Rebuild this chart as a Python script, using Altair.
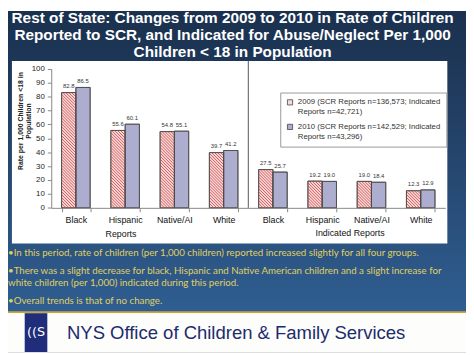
import altair as alt
import pandas as pd

# ---------------- data ----------------
title_lines = [
    "Rest of State: Changes from 2009 to 2010 in Rate of Children",
    "Reported to SCR,  and Indicated for Abuse/Neglect Per 1,000",
    "Children < 18 in Population",
]
races = ["Black", "Hispanic", "Native/AI", "White"]
group_names = ["Reports", "Indicated Reports"]
series_names = [
    "2009 (SCR Reports n=136,573; Indicated Reports n=42,721)",
    "2010 (SCR Reports n=142,529; Indicated Reports n=43,296)",
]
reports_2009 = [82.8, 55.6, 54.8, 39.7]
reports_2010 = [86.5, 60.1, 55.1, 41.2]
indicated_2009 = [27.5, 19.2, 19.0, 12.3]
indicated_2010 = [25.7, 19.0, 18.4, 12.9]
y_ticks = [0, 10, 20, 30, 40, 50, 60, 70, 80, 90, 100]
y_title = ["Rate per 1,000 Children <18 in", "Population"]
bullet_lines = [
    "\u2022In this period, rate of children (per 1,000 children) reported increased slightly for all four groups.",
    "\u2022There was a slight decrease for black, Hispanic and Native American children and a slight increase for",
    "white children (per 1,000) indicated during this period.",
    "\u2022Overall trends is that of no change.",
]
footer_text = "NYS Office of Children & Family Services"

# ---------------- layout ----------------
W, H = 466, 347
PX0, PX1 = 44.0, 445.0
PY0, PY100 = 200.3, 58.7
PAD_IN = 0.42
N_BANDS = 8
STEP = (PX1 - PX0) / N_BANDS
BAND_START = PX0 + STEP * PAD_IN / 2
BAR_W = STEP * (1 - PAD_IN) / 2
YPX = (PY0 - PY100) / 100.0

C2009 = "#f5dada"
C2010 = "#adadcf"
HATCH = "#d84848"

rows = []
for gname, v09, v10 in [(group_names[0], reports_2009, reports_2010),
                        (group_names[1], indicated_2009, indicated_2010)]:
    for r, race in enumerate(races):
        key = f"{gname}|{race}"
        rows.append({"key": key, "series": series_names[0], "value": v09[r]})
        rows.append({"key": key, "series": series_names[1], "value": v10[r]})
df = pd.DataFrame(rows)
keys = list(dict.fromkeys(df["key"]))

# hatch lines over the 2009 bars (diagonal "\" stripes), in data units
hatch = []
spacing = 3.0
for j, k in enumerate(keys):
    v = df[(df.key == k) & (df.series == series_names[0])]["value"].iloc[0]
    L = BAND_START + j * STEP
    w, h = BAR_W, v * YPX
    c = spacing / 2
    while c < w + h:
        a1, a2 = max(0.0, c - h), min(w, c)
        if a2 > a1:
            hatch.append({
                "hx": (L + a1 - PX0) / STEP, "hy": (c - a1) / YPX,
                "hx2": (L + a2 - PX0) / STEP, "hy2": (c - a2) / YPX,
            })
        c += spacing
hdf = pd.DataFrame(hatch)

one = pd.DataFrame({"k": [0]})

xscale = alt.Scale(domain=keys, range=[PX0, PX1], paddingInner=PAD_IN, paddingOuter=PAD_IN / 2)
yscale = alt.Scale(domain=[0, 100], range=[PY0, PY100], nice=False, zero=True)
offscale = alt.Scale(domain=series_names, paddingInner=0, paddingOuter=0)

# ---------------- decoration ----------------
bg = alt.Chart(one).mark_rect(
    fill=alt.LinearGradient(
        gradient="linear",
        stops=[alt.GradientStop(color="#1a304e", offset=0),
               alt.GradientStop(color="#223f63", offset=0.35),
               alt.GradientStop(color="#2f5e92", offset=1)],
        x1=0, x2=0, y1=0, y2=1)
).encode(x=alt.value(0), x2=alt.value(W), y=alt.value(0), y2=alt.value(307))

title = alt.Chart(one).mark_text(
    text=title_lines, font="Liberation Sans", fontWeight="bold", fontSize=15.6,
    color="white", align="center", baseline="alphabetic", lineHeight=17.5
).encode(x=alt.value(228.5), y=alt.value(12))

panel = alt.Chart(one).mark_rect(fill="white").encode(
    x=alt.value(4), x2=alt.value(447), y=alt.value(51), y2=alt.value(236.5))

sep = alt.Chart(one).mark_rule(color="#555", strokeWidth=1).encode(
    x=alt.value(PX0 + 4 * STEP), y=alt.value(51), y2=alt.value(PY0))

# ---------------- data layers ----------------
bars = alt.Chart(df).mark_bar(stroke="#4a4a4a", strokeWidth=0.8).encode(
    x=alt.X("key:N", scale=xscale, sort=keys, title=None,
            axis=alt.Axis(offset=-(H - PY0), labelExpr="split(datum.label, '|')[1]",
                          tickBand="extent", tickSize=4, labelFontSize=9, labelPadding=4,
                          labelAngle=0, domainColor="#888", tickColor="#888",
                          labelColor="#111", labelFont="Liberation Sans", zindex=1)),
    xOffset=alt.XOffset("series:N", scale=offscale, sort=series_names),
    y=alt.Y("value:Q", scale=yscale,
            axis=alt.Axis(values=y_ticks, offset=-PX0, tickSize=4, labelFontSize=8,
                          labelPadding=3, domainColor="#888", tickColor="#888",
                          labelColor="#222", grid=False, title=y_title,
                          titleFontSize=7, titleFontWeight="bold", titleAngle=270,
                          titleX=-35.5, titleY=111.5, titleAlign="center",
                          titleBaseline="top", titleColor="#222", titleLineHeight=8,
                          titleFont="Liberation Sans", zindex=1)),
    color=alt.Color("series:N", scale=alt.Scale(domain=series_names, range=[C2009, C2010]),
                    legend=alt.Legend(orient="none", legendX=277, legendY=83, title=None,
                                      labelExpr="[substring(datum.label, 0, lastindexof(datum.label, ' Reports')), substring(datum.label, lastindexof(datum.label, ' Reports') + 1)]",
                                      labelFontSize=7.9, labelLimit=0,
                                      labelColor="#333", labelFont="Liberation Sans",
                                      symbolType="square", symbolSize=28,
                                      symbolStrokeColor="#444", symbolStrokeWidth=0.8,
                                      fillColor="white", strokeColor="#999",
                                      padding=6, rowPadding=6)),
)

hatch_layer = alt.Chart(hdf).mark_rule(color=HATCH, strokeWidth=0.9).encode(
    x=alt.X("hx:Q", scale=alt.Scale(domain=[0, N_BANDS], range=[PX0, PX1], nice=False, zero=False), axis=None),
    x2="hx2:Q",
    y=alt.Y("hy:Q", scale=yscale, axis=None),
    y2="hy2:Q",
)

outline = alt.Chart(df).mark_bar(fillOpacity=0, stroke="#4a4a4a", strokeWidth=0.8).encode(
    x=alt.X("key:N", scale=xscale, sort=keys, axis=None),
    xOffset=alt.XOffset("series:N", scale=offscale, sort=series_names),
    y=alt.Y("value:Q", scale=yscale, axis=None),
)

labels = alt.Chart(df).mark_text(fontSize=6, dy=-6.5, color="#333", font="Liberation Sans").encode(
    x=alt.X("key:N", scale=xscale, sort=keys, axis=None),
    xOffset=alt.XOffset("series:N", scale=offscale, sort=series_names),
    y=alt.Y("value:Q", scale=yscale, axis=None),
    text=alt.Text("value:Q", format=".1f"),
)

grp_left = alt.Chart(one).mark_text(text=group_names[0], fontSize=9, color="#111",
                                    font="Liberation Sans").encode(
    x=alt.value(115), y=alt.value(227))
grp_right = alt.Chart(one).mark_text(text=group_names[1], fontSize=9, color="#111",
                                     font="Liberation Sans").encode(
    x=alt.value(348), y=alt.value(226))

# ---------------- bullets ----------------
bullet_y = [246, 264.5, 277, 295.5]
bullet_layers = [
    alt.Chart(one).mark_text(text=t, font="Lato", fontSize=9.9, color="#e0d060",
                             align="left", baseline="middle").encode(
        x=alt.value(0), y=alt.value(yy))
    for t, yy in zip(bullet_lines, bullet_y)
]

# ---------------- footer ----------------
gold = alt.Chart(one).mark_rect(fill="#c8a640").encode(
    x=alt.value(0), x2=alt.value(W), y=alt.value(305.5), y2=alt.value(307.5))
white_band = alt.Chart(one).mark_rect(fill="#fdfdfb").encode(
    x=alt.value(0), x2=alt.value(W), y=alt.value(307.5), y2=alt.value(H))
logo = alt.Chart(one).mark_rect(fill="#1f2d7a").encode(
    x=alt.value(17), x2=alt.value(40), y=alt.value(307.5), y2=alt.value(H))
logo_mark = alt.Chart(one).mark_text(text="((S", font="DejaVu Sans", fontSize=13,
                                     color="white", fontWeight="normal").encode(
    x=alt.value(28.5), y=alt.value(327))
footer = alt.Chart(one).mark_text(text=footer_text, font="Liberation Sans", fontSize=18.8,
                                  color="#1c2b6e", align="left", baseline="alphabetic").encode(
    x=alt.value(60), y=alt.value(333.7))

chart = alt.layer(
    bg, title, panel, sep, bars, hatch_layer, outline, labels, grp_left, grp_right,
    *bullet_layers, gold, white_band, logo, logo_mark, footer
).resolve_scale(
    x="independent", y="independent"
).properties(
    width=W, height=H, padding=0,
    autosize=alt.AutoSizeParams(type="none"),
).configure_view(stroke=None).configure(font="Liberation Sans")

chart.save("out.html", embed_options={"renderer": "svg", "actions": False})
